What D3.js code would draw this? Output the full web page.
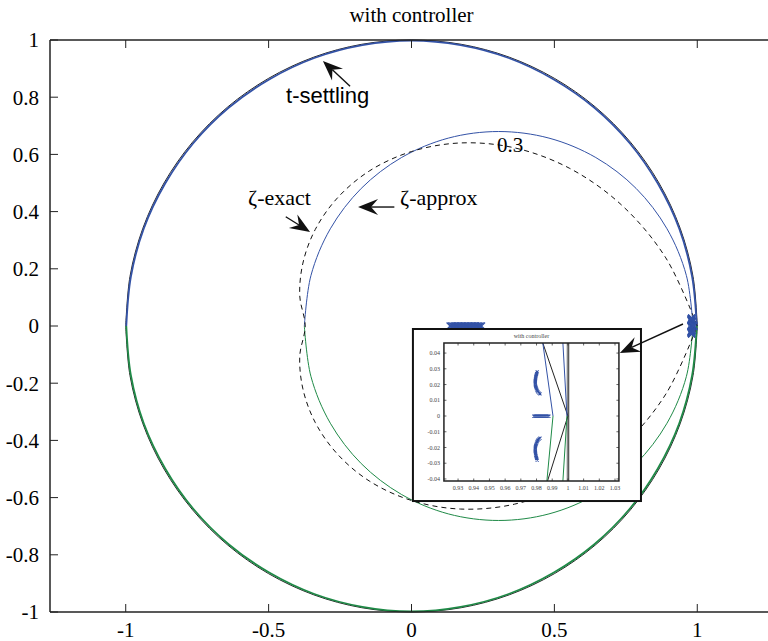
<!DOCTYPE html>
<html>
<head>
<meta charset="utf-8">
<script src="https://d3js.org/d3.v7.min.js"></script>
<style>
  body { margin: 0; background: #fff; }
  text { font-family: "Liberation Serif", "Times New Roman", serif; }
</style>
</head>
<body>
<script>

// ---- data ----
var xTicks = [-1, -0.5, 0, 0.5, 1];
var yTicks = [1, 0.8, 0.6, 0.4, 0.2, 0, -0.2, -0.4, -0.6, -0.8, -1];

// unit circle, upper half (lower half is the mirror)
var unitUpper = [[1,0],[0.985,0.174],[0.940,0.342],[0.866,0.5],[0.766,0.643],[0.643,0.766],[0.5,0.866],
  [0.342,0.940],[0.174,0.985],[0,1],[-0.174,0.985],[-0.342,0.940],[-0.5,0.866],[-0.643,0.766],
  [-0.766,0.643],[-0.866,0.5],[-0.940,0.342],[-0.985,0.174],[-1,0]];

// t-settling response locus (sits on the unit circle, a bit wobbly)
var settleUpper = [[0.998,0],[0.982,0.172],[0.937,0.340],[0.862,0.498],[0.763,0.640],[0.640,0.763],[0.498,0.862],
  [0.340,0.937],[0.172,0.982],[0,0.998],[-0.172,0.982],[-0.340,0.937],[-0.498,0.862],[-0.640,0.763],
  [-0.763,0.640],[-0.862,0.498],[-0.937,0.340],[-0.982,0.172],[-0.998,0]];

// zeta-approx locus, upper half
var approxUpper = [[0.985,0],[0.962,0.176],[0.894,0.34],[0.786,0.481],[0.645,0.589],[0.481,0.657],[0.305,0.68],
  [0.129,0.657],[-0.035,0.589],[-0.176,0.481],[-0.284,0.34],[-0.352,0.176],[-0.375,0]];

// zeta = 0.3 exact contour, upper half
var exactUpper = [[1,0],[0.890,0.238],[0.734,0.424],[0.552,0.552],[0.360,0.623],[0.171,0.640],[0,0.610],
  [-0.146,0.543],[-0.259,0.448],[-0.337,0.337],[-0.380,0.220],[-0.391,0.105],[-0.372,0]];

// closed-loop pole markers near z = 1
var polesUp = [[0.9822,0.0140],[0.9816,0.0146],[0.9810,0.0152],[0.9806,0.0158],[0.9803,0.0165],[0.9800,0.0172],
  [0.9797,0.0180],[0.9795,0.0188],[0.9793,0.0195],[0.9792,0.0203],[0.9792,0.0210],[0.9792,0.0218],
  [0.9792,0.0225],[0.9793,0.0233],[0.9794,0.0240],[0.9795,0.0248],[0.9797,0.0255],[0.9799,0.0263],
  [0.9801,0.0270],[0.9804,0.0280]];
var polesReal = [[0.9783,0],[0.9789,0],[0.9795,0],[0.9801,0],[0.9807,0],[0.9813,0],[0.9819,0],[0.9825,0],
  [0.9831,0],[0.9837,0],[0.9843,0],[0.9849,0],[0.9855,0],[0.9861,0],[0.9867,0],[0.9873,0],[0.9879,0]];
var polesDown = polesUp.map(function(p){ return [p[0], -p[1]]; });
// markers along the real axis
var rowMarks = [0.135,0.140,0.145,0.150,0.155,0.160,0.165,0.170,0.175,0.180,0.185,0.190,0.195,0.200,
  0.205,0.210,0.215,0.220,0.225,0.230,0.235,0.240,0.245];

// inset (zoom around z = 1)
var insetXTicks = [0.93,0.94,0.95,0.96,0.97,0.98,0.99,1,1.01,1.02,1.03];
var insetYTicks = [0.04,0.03,0.02,0.01,0,-0.01,-0.02,-0.03,-0.04];
var insetBlue  = [[[0.984,0.0464],[0.9905,0]], [[0.9968,0.0464],[0.9994,0]]];
var insetGreen = [[[0.9905,0],[0.9866,-0.0413]], [[0.9994,0],[0.9968,-0.0413]]];
var insetBlack = [[0.984,0.0464],[1.0,0],[0.987,-0.0413]];

var blue = "#3352a6", green = "#1f8a47";

// ---- layout ----
var W = 768, H = 641;
var svg = d3.select("body").append("svg").attr("width", W).attr("height", H);

var x = d3.scaleLinear().domain([-1.265, 1.265]).range([50, 773]);
var y = d3.scaleLinear().domain([-1, 1]).range([612, 40]);

var mirror = function(arr){ return arr.map(function(p){ return [p[0], -p[1]]; }); };
var line = d3.line().x(function(d){ return x(d[0]); }).y(function(d){ return y(d[1]); })
  .curve(d3.curveCatmullRom);

// title
svg.append("text").attr("x", x(0)).attr("y", 22).attr("text-anchor", "middle")
  .style("font-size", "21px").text("with controller");

var plot = svg.append("g");

// unit circle
plot.append("path").attr("d", line(unitUpper)).attr("fill", "none").attr("stroke", "#222").attr("stroke-width", 1);
plot.append("path").attr("d", line(mirror(unitUpper))).attr("fill", "none").attr("stroke", "#222").attr("stroke-width", 1);

// t-settling locus
plot.append("path").attr("d", line(settleUpper)).attr("fill", "none").attr("stroke", blue).attr("stroke-width", 1.8);
plot.append("path").attr("d", line(mirror(settleUpper))).attr("fill", "none").attr("stroke", green).attr("stroke-width", 1.8);

// zeta approx
plot.append("path").attr("d", line(approxUpper)).attr("fill", "none").attr("stroke", blue).attr("stroke-width", 1);
plot.append("path").attr("d", line(mirror(approxUpper))).attr("fill", "none").attr("stroke", green).attr("stroke-width", 1);

// zeta exact (dashed)
plot.append("path").attr("d", line(exactUpper.concat(mirror(exactUpper).reverse().slice(1))))
  .attr("fill", "none").attr("stroke", "#111").attr("stroke-width", 1).attr("stroke-dasharray", "5,4");

plot.append("text").attr("x", x(0.345)).attr("y", y(0.633)).attr("dy", "0.35em").attr("text-anchor", "middle")
  .style("font-size", "21px").text("0.3");

// x markers
function xMark(g, px, py, s, col, w) {
  g.append("path").attr("d", "M" + (px - s) + "," + (py - s) + "L" + (px + s) + "," + (py + s) +
      "M" + (px - s) + "," + (py + s) + "L" + (px + s) + "," + (py - s))
    .attr("stroke", col).attr("stroke-width", w).attr("fill", "none");
}
rowMarks.forEach(function(v){ xMark(plot, x(v), y(0), 3.5, blue, 1.3); });
polesUp.concat(polesReal, polesDown).forEach(function(p){ xMark(plot, x(p[0]), y(p[1]), 3.5, blue, 1.3); });

// axes frame
var frame = svg.append("g").attr("stroke", "#222").attr("stroke-width", 1.5).attr("fill", "none");
frame.append("line").attr("x1", x.range()[0]).attr("x2", x.range()[1]).attr("y1", y(1)).attr("y2", y(1));
frame.append("line").attr("x1", x.range()[0]).attr("x2", x.range()[1]).attr("y1", y(-1)).attr("y2", y(-1));
frame.append("line").attr("x1", x.range()[0]).attr("x2", x.range()[0]).attr("y1", y(1)).attr("y2", y(-1));

xTicks.forEach(function(t){
  frame.append("line").attr("x1", x(t)).attr("x2", x(t)).attr("y1", y(-1)).attr("y2", y(-1) - 8).attr("stroke-width", 1);
  frame.append("line").attr("x1", x(t)).attr("x2", x(t)).attr("y1", y(1)).attr("y2", y(1) + 8).attr("stroke-width", 1);
  svg.append("text").attr("x", x(t)).attr("y", 637).attr("text-anchor", "middle")
    .style("font-size", "21px").text(t);
});
yTicks.forEach(function(t){
  frame.append("line").attr("x1", x.range()[0]).attr("x2", x.range()[0] + 8).attr("y1", y(t)).attr("y2", y(t)).attr("stroke-width", 1);
  svg.append("text").attr("x", 39).attr("y", y(t)).attr("dy", "0.35em").attr("text-anchor", "end")
    .style("font-size", "21px").text(t);
});

// arrows
function arrow(x1, y1, x2, y2) {
  var a1 = x(x1), b1 = y(y1), a2 = x(x2), b2 = y(y2);
  var ang = Math.atan2(b2 - b1, a2 - a1), L = 20, hw = 8, notch = 13;
  var ux = Math.cos(ang), uy = Math.sin(ang);
  var bx = a2 - ux * L, by = b2 - uy * L;
  var nx = a2 - ux * notch, ny = b2 - uy * notch;
  svg.append("line").attr("x1", a1).attr("y1", b1).attr("x2", nx).attr("y2", ny)
    .attr("stroke", "#111").attr("stroke-width", 1.4);
  svg.append("path").attr("d", "M" + a2 + "," + b2 + "L" + (bx - uy * hw) + "," + (by + ux * hw) +
      "L" + nx + "," + ny + "L" + (bx + uy * hw) + "," + (by - ux * hw) + "Z")
    .attr("fill", "#111");
}

svg.append("text").attr("x", x(-0.439)).attr("y", y(0.78))
  .style("font-family", "'Liberation Sans', Arial, sans-serif").style("font-size", "22px").text("t-settling");
arrow(-0.215, 0.838, -0.31, 0.927);

svg.append("text").attr("x", x(-0.572)).attr("y", y(0.423)).style("font-size", "22px").text("ζ-exact");
arrow(-0.44, 0.382, -0.355, 0.329);

svg.append("text").attr("x", x(-0.040)).attr("y", y(0.423)).style("font-size", "22px").text("ζ-approx");
arrow(-0.06, 0.416, -0.187, 0.416);

// ---- inset ----
var box = { x0: x(0.005), x1: x(0.803), y0: y(-0.0105), y1: y(-0.612) };
svg.append("rect").attr("x", box.x0).attr("y", box.y0).attr("width", box.x1 - box.x0).attr("height", box.y1 - box.y0)
  .attr("fill", "#fff").attr("stroke", "#111").attr("stroke-width", 2);

var ix = d3.scaleLinear().domain([0.921, 1.0325]).range([box.x0 + 31, box.x0 + 206]);
var iy = d3.scaleLinear().domain([-0.0413, 0.0464]).range([box.y0 + 152, box.y0 + 14]);
var ig = svg.append("g");
ig.append("clipPath").attr("id", "iclip").append("rect")
  .attr("x", ix.range()[0]).attr("y", iy.range()[1]).attr("width", ix.range()[1] - ix.range()[0]).attr("height", iy.range()[0] - iy.range()[1]);
var ic = ig.append("g").attr("clip-path", "url(#iclip)");
var iline = d3.line().x(function(d){ return ix(d[0]); }).y(function(d){ return iy(d[1]); });

ic.append("line").attr("x1", ix(1)).attr("x2", ix(1)).attr("y1", iy.range()[0]).attr("y2", iy.range()[1])
  .attr("stroke", "#888").attr("stroke-width", 2.5);
ic.append("line").attr("x1", ix(1) + 0.8).attr("x2", ix(1) + 0.8).attr("y1", iy.range()[0]).attr("y2", iy.range()[1])
  .attr("stroke", "#333").attr("stroke-width", 0.7);
ic.append("path").attr("d", iline(insetBlack)).attr("fill", "none").attr("stroke", "#222").attr("stroke-width", 1);
insetBlue.forEach(function(s){ ic.append("path").attr("d", iline(s)).attr("fill", "none").attr("stroke", blue).attr("stroke-width", 1); });
insetGreen.forEach(function(s){ ic.append("path").attr("d", iline(s)).attr("fill", "none").attr("stroke", green).attr("stroke-width", 1); });
polesUp.concat(polesDown, polesReal).forEach(function(p){ xMark(ic, ix(p[0]), iy(p[1]), 1.5, blue, 1.1); });

var iframe = ig.append("g").attr("stroke", "#222").attr("fill", "none");
iframe.append("rect").attr("x", ix.range()[0]).attr("y", iy.range()[1])
  .attr("width", ix.range()[1] - ix.range()[0]).attr("height", iy.range()[0] - iy.range()[1]).attr("stroke-width", 1.5);
insetXTicks.forEach(function(t){
  iframe.append("line").attr("x1", ix(t)).attr("x2", ix(t)).attr("y1", iy.range()[0]).attr("y2", iy.range()[0] - 2.5).attr("stroke-width", 0.7);
  iframe.append("line").attr("x1", ix(t)).attr("x2", ix(t)).attr("y1", iy.range()[1]).attr("y2", iy.range()[1] + 2.5).attr("stroke-width", 0.7);
  ig.append("text").attr("x", ix(t)).attr("y", iy.range()[0] + 9).attr("text-anchor", "middle")
    .style("font-size", "6px").attr("fill", "#444").text(t);
});
insetYTicks.forEach(function(t){
  iframe.append("line").attr("x1", ix.range()[0]).attr("x2", ix.range()[0] + 2.5).attr("y1", iy(t)).attr("y2", iy(t)).attr("stroke-width", 0.7);
  iframe.append("line").attr("x1", ix.range()[1]).attr("x2", ix.range()[1] - 2.5).attr("y1", iy(t)).attr("y2", iy(t)).attr("stroke-width", 0.7);
  ig.append("text").attr("x", ix.range()[0] - 4).attr("y", iy(t)).attr("dy", "0.35em").attr("text-anchor", "end")
    .style("font-size", "6px").attr("fill", "#444").text(t);
});
ig.append("text").attr("x", (ix.range()[0] + ix.range()[1]) / 2).attr("y", iy.range()[1] - 5).attr("text-anchor", "middle")
  .style("font-size", "6px").attr("fill", "#444").text("with controller");

arrow(0.95, 0.007, 0.729, -0.094);

</script>
</body>
</html>
